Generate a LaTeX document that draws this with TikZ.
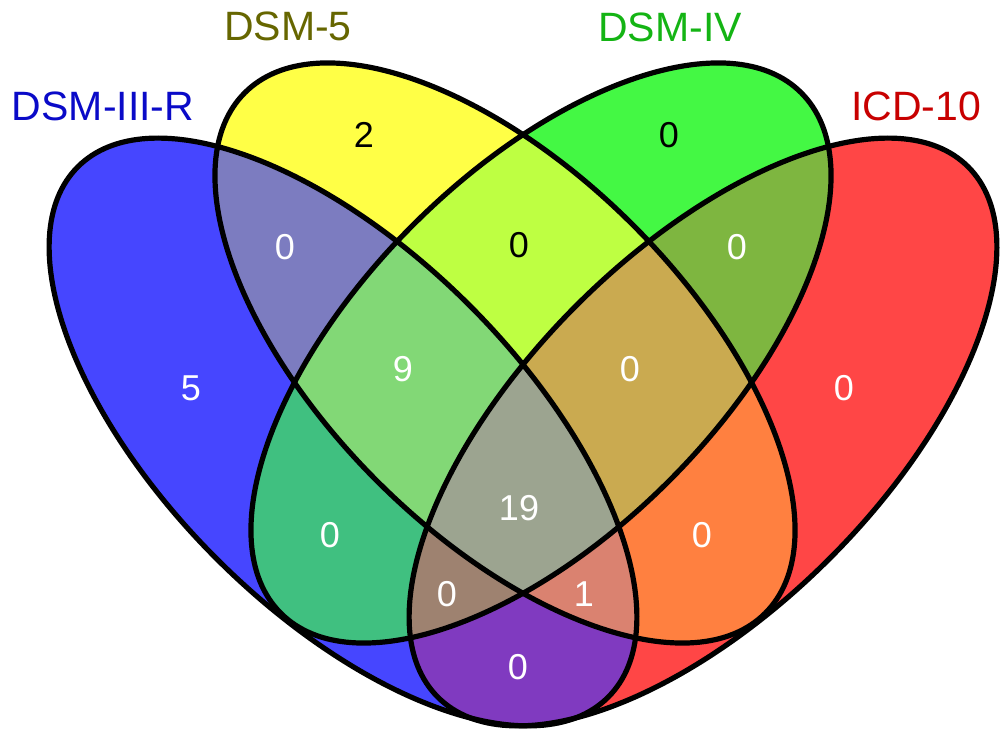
\documentclass[tikz,border=0pt]{standalone}
\usepackage{fontspec}
\setmainfont{Liberation Sans}
\begin{document}
\begin{tikzpicture}[x=1pt,y=1pt,
  elB/.style={rotate around={-45:(343,304)}},
  elY/.style={rotate around={-45:(505,383)}},
  elG/.style={rotate around={45:(541,383)}},
  elR/.style={rotate around={45:(703,304)}},
  num/.style={font=\fontsize{36}{36}\selectfont, text=white, inner sep=0pt},
  numk/.style={num, text=black},
  lab/.style={font=\fontsize{41}{41}\selectfont, inner sep=0pt},
  outline/.style={draw=black, line width=5.2pt}]
\definecolor{cB}{RGB}{70,70,255}
\definecolor{cY}{RGB}{255,255,70}
\definecolor{cG}{RGB}{68,248,68}
\definecolor{cR}{RGB}{255,70,70}
\definecolor{cBY}{RGB}{124,124,192}
\definecolor{cYG}{RGB}{190,255,66}
\definecolor{cGR}{RGB}{126,182,64}
\definecolor{cBG}{RGB}{64,192,128}
\definecolor{cYR}{RGB}{255,128,64}
\definecolor{cBR}{RGB}{128,58,192}
\definecolor{cBYG}{RGB}{130,216,118}
\definecolor{cYGR}{RGB}{202,170,80}
\definecolor{cBYR}{RGB}{218,130,112}
\definecolor{cBGR}{RGB}{158,130,112}
\definecolor{cALL}{RGB}{156,164,144}
\definecolor{tB}{RGB}{10,10,200}
\definecolor{tY}{RGB}{102,102,0}
\definecolor{tG}{RGB}{20,180,20}
\definecolor{tR}{RGB}{200,0,0}
\def\eB{(343,304) ellipse [x radius=375, y radius=179]}
\useasboundingbox (0,0) rectangle (1004,736);
\fill[white] (0,0) rectangle (1004,736);
% single sets
\fill[cB, elB] (343,304) ellipse [x radius=375, y radius=179];
\fill[cY, elY] (505,383) ellipse [x radius=368, y radius=181];
\fill[cG, elG] (541,383) ellipse [x radius=368, y radius=181];
\fill[cR, elR] (703,304) ellipse [x radius=375, y radius=179];
% pairs
\begin{scope}
 \clip[elB] (343,304) ellipse [x radius=375, y radius=179];
 \clip[elY] (505,383) ellipse [x radius=368, y radius=181];
 \fill[cBY] (0,0) rectangle (1004,736);
\end{scope}
\begin{scope}
 \clip[elB] (343,304) ellipse [x radius=375, y radius=179];
 \clip[elG] (541,383) ellipse [x radius=368, y radius=181];
 \fill[cBG] (0,0) rectangle (1004,736);
\end{scope}
\begin{scope}
 \clip[elB] (343,304) ellipse [x radius=375, y radius=179];
 \clip[elR] (703,304) ellipse [x radius=375, y radius=179];
 \fill[cBR] (0,0) rectangle (1004,736);
\end{scope}
\begin{scope}
 \clip[elY] (505,383) ellipse [x radius=368, y radius=181];
 \clip[elG] (541,383) ellipse [x radius=368, y radius=181];
 \fill[cYG] (0,0) rectangle (1004,736);
\end{scope}
\begin{scope}
 \clip[elY] (505,383) ellipse [x radius=368, y radius=181];
 \clip[elR] (703,304) ellipse [x radius=375, y radius=179];
 \fill[cYR] (0,0) rectangle (1004,736);
\end{scope}
\begin{scope}
 \clip[elG] (541,383) ellipse [x radius=368, y radius=181];
 \clip[elR] (703,304) ellipse [x radius=375, y radius=179];
 \fill[cGR] (0,0) rectangle (1004,736);
\end{scope}
% triples
\begin{scope}
 \clip[elB] (343,304) ellipse [x radius=375, y radius=179];
 \clip[elY] (505,383) ellipse [x radius=368, y radius=181];
 \clip[elG] (541,383) ellipse [x radius=368, y radius=181];
 \fill[cBYG] (0,0) rectangle (1004,736);
\end{scope}
\begin{scope}
 \clip[elB] (343,304) ellipse [x radius=375, y radius=179];
 \clip[elY] (505,383) ellipse [x radius=368, y radius=181];
 \clip[elR] (703,304) ellipse [x radius=375, y radius=179];
 \fill[cBYR] (0,0) rectangle (1004,736);
\end{scope}
\begin{scope}
 \clip[elB] (343,304) ellipse [x radius=375, y radius=179];
 \clip[elG] (541,383) ellipse [x radius=368, y radius=181];
 \clip[elR] (703,304) ellipse [x radius=375, y radius=179];
 \fill[cBGR] (0,0) rectangle (1004,736);
\end{scope}
\begin{scope}
 \clip[elY] (505,383) ellipse [x radius=368, y radius=181];
 \clip[elG] (541,383) ellipse [x radius=368, y radius=181];
 \clip[elR] (703,304) ellipse [x radius=375, y radius=179];
 \fill[cYGR] (0,0) rectangle (1004,736);
\end{scope}
% all four
\begin{scope}
 \clip[elB] (343,304) ellipse [x radius=375, y radius=179];
 \clip[elY] (505,383) ellipse [x radius=368, y radius=181];
 \clip[elG] (541,383) ellipse [x radius=368, y radius=181];
 \clip[elR] (703,304) ellipse [x radius=375, y radius=179];
 \fill[cALL] (0,0) rectangle (1004,736);
\end{scope}
% outlines
\draw[outline, elB] (343,304) ellipse [x radius=375, y radius=179];
\draw[outline, elY] (505,383) ellipse [x radius=368, y radius=181];
\draw[outline, elG] (541,383) ellipse [x radius=368, y radius=181];
\draw[outline, elR] (703,304) ellipse [x radius=375, y radius=179];
% counts
\node[num]  (nB)    at (191,348) {5};
\node[num]  (nBY)   at (285,489) {0};
\node[numk] (nY)    at (364,601) {2};
\node[numk] (nYG)   at (519,491) {0};
\node[numk] (nG)    at (669,601) {0};
\node[num]  (nGR)   at (737,489) {0};
\node[num]  (nR)    at (844,348) {0};
\node[num]  (nBYG)  at (403,367) {9};
\node[num]  (nYGR)  at (630,367) {0};
\node[num]  (nALL)  at (519,228) {19};
\node[num]  (nBG)   at (330,201) {0};
\node[num]  (nYR)   at (702,201) {0};
\node[num]  (nBGR)  at (447,142) {0};
\node[num]  (nBYR)  at (584,142) {1};
\node[num]  (nBR)   at (518,69)  {0};
% set labels
\node[lab, text=tB] (lB) at (103,630) {DSM-III-R};
\node[lab, text=tY] (lY) at (288,710) {DSM-5};
\node[lab, text=tG] (lG) at (670,709) {DSM-IV};
\node[lab, text=tR] (lR) at (916,630) {ICD-10};
\end{tikzpicture}
\end{document}
